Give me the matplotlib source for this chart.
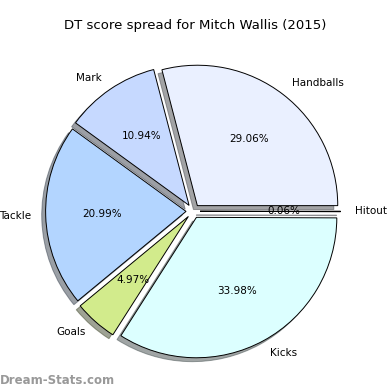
import matplotlib
matplotlib.use("Agg")
import matplotlib.pyplot as plt

labels = ["Handballs", "Mark", "Tackle", "Goals", "Kicks", "Hitout"]
values = [29.06, 10.94, 20.99, 4.97, 33.98, 0.06]
colors = ["#eaf0ff", "#c6d9ff", "#b3d5ff", "#d2eb8c", "#dcffff", "#f0f0ff"]
explode = [0.05] * 6

fig = plt.figure(figsize=(3.9, 3.9), dpi=100)
ax = fig.add_axes([0.045, 0.006, 0.9, 0.905])
ax.pie(values, labels=labels, colors=colors, explode=explode, autopct="%.2f%%",
       startangle=0, shadow=True, counterclock=True,
       wedgeprops=dict(edgecolor="black", linewidth=0.7),
       textprops=dict(fontsize=7.5))
ax.set_aspect("equal")
fig.text(0.5, 0.935, "DT score spread for Mitch Wallis (2015)", ha="center", va="center", fontsize=9.5)
fig.text(0.0, 0.025, "Dream-Stats.com", ha="left", va="center", fontsize=8.5,
         color="#999999", fontweight="bold")
fig.savefig("out.png", dpi=100)
